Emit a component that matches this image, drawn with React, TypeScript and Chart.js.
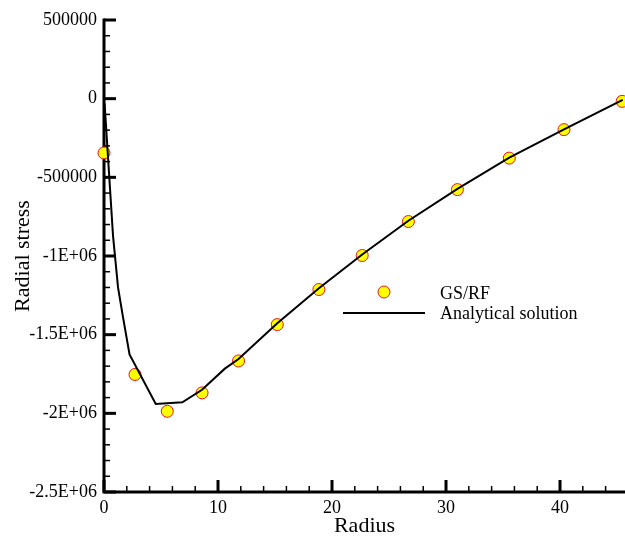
import React, { useEffect, useRef } from "react";
import { Chart, registerables } from "chart.js";

Chart.register(...registerables);

// GS/RF results (circles)
const gsRadius = [0, 2.72, 5.55, 8.6, 11.8, 15.2, 18.85, 22.65, 26.7, 31.0, 35.55, 40.35, 45.45];
const gsStress = [-345000, -1753000, -1987000, -1870000, -1667000, -1436000, -1213000, -997000, -781000, -578000, -378000, -197000, -17000];

// Analytical solution (line)
const anRadius = [0.05, 0.79, 1.23, 1.67, 2.24, 4.54, 6.87, 8.6, 10.6, 11.8, 15.2, 18.85, 22.65, 26.7, 31.0, 35.55, 40.35, 45.5];
const anStress = [-30000, -870000, -1200000, -1390000, -1626000, -1940000, -1930000, -1850000, -1716000, -1655000, -1428000, -1205000, -990000, -776000, -573000, -375000, -195000, -8000];

const xTickValues = [0, 10, 20, 30, 40];
const yTickValues = [500000, 0, -500000, -1000000, -1500000, -2000000, -2500000];
const yTickLabels = ["500000", "0", "-500000", "-1E+06", "-1.5E+06", "-2E+06", "-2.5E+06"];
const xTitle = "Radius";
const yTitle = "Radial stress";
const legendLabels = ["GS/RF", "Analytical solution"];

const FONT = "'Liberation Serif', 'Times New Roman', serif";
const POINT_FILL = "#ffff00";
const POINT_EDGE = "#e8141a";

const axesPlugin = {
  id: "axesTicks",
  beforeDatasetsDraw(chart: any) {
    const { ctx, chartArea } = chart;
    const x = chart.scales.x;
    const y = chart.scales.y;
    ctx.save();
    ctx.strokeStyle = "#000";
    ctx.lineCap = "butt";
    // y ticks every 100000, major every 500000
    const yMinK = Math.round(y.min / 100000);
    const yMaxK = Math.round(y.max / 100000);
    for (let k = yMinK; k <= yMaxK; k++) {
      const py = y.getPixelForValue(k * 100000);
      const major = k % 5 === 0;
      ctx.lineWidth = major ? 3 : 1.5;
      ctx.beginPath();
      ctx.moveTo(chartArea.left, py);
      ctx.lineTo(chartArea.left + (major ? 12 : 6), py);
      ctx.stroke();
    }
    // x ticks every 2, major every 10
    const xMaxK = Math.floor(x.max / 2);
    for (let k = 0; k <= xMaxK; k++) {
      const px = x.getPixelForValue(k * 2);
      const major = k % 5 === 0;
      ctx.lineWidth = major ? 3 : 1.5;
      ctx.beginPath();
      ctx.moveTo(px, chartArea.bottom);
      ctx.lineTo(px, chartArea.bottom - (major ? 12 : 6));
      ctx.stroke();
    }
    // axis lines
    ctx.lineWidth = 3;
    ctx.beginPath();
    ctx.moveTo(chartArea.left, chartArea.top - 1.5);
    ctx.lineTo(chartArea.left, chartArea.bottom + 1.5);
    ctx.moveTo(chartArea.left - 1.5, chartArea.bottom);
    ctx.lineTo(chartArea.right, chartArea.bottom);
    ctx.stroke();
    ctx.restore();
  },
};

const legendPlugin = {
  id: "customLegend",
  afterDraw(chart: any) {
    const { ctx } = chart;
    ctx.save();
    // circle entry
    ctx.beginPath();
    ctx.arc(384, 292, 6, 0, Math.PI * 2);
    ctx.fillStyle = POINT_FILL;
    ctx.fill();
    ctx.lineWidth = 1;
    ctx.strokeStyle = POINT_EDGE;
    ctx.stroke();
    // line entry
    ctx.beginPath();
    ctx.moveTo(343, 313);
    ctx.lineTo(425, 313);
    ctx.lineWidth = 2;
    ctx.strokeStyle = "#000";
    ctx.stroke();
    ctx.fillStyle = "#000";
    ctx.font = `18px ${FONT}`;
    ctx.textAlign = "left";
    ctx.textBaseline = "alphabetic";
    ctx.fillText(legendLabels[0], 440, 299);
    ctx.fillText(legendLabels[1], 440, 319);
    ctx.restore();
  },
};

export default function App() {
  const canvasRef = useRef<HTMLCanvasElement | null>(null);

  useEffect(() => {
    const canvas = canvasRef.current;
    if (!canvas) return;
    const chart = new Chart(canvas, {
      type: "scatter",
      data: {
        datasets: [
          {
            label: legendLabels[1],
            data: anRadius.map((r, i) => ({ x: r, y: anStress[i] })),
            showLine: true,
            borderColor: "#000",
            borderWidth: 2,
            pointRadius: 0,
            fill: false,
            tension: 0,
            clip: false as any,
          },
          {
            label: legendLabels[0],
            data: gsRadius.map((r, i) => ({ x: r, y: gsStress[i] })),
            showLine: false,
            pointRadius: 6,
            pointBackgroundColor: POINT_FILL,
            pointBorderColor: POINT_EDGE,
            pointBorderWidth: 1,
            clip: false as any,
          },
        ],
      },
      options: {
        responsive: false,
        animation: false,
        layout: { autoPadding: false, padding: { top: 20, right: 0, left: 0, bottom: 0 } },
        plugins: {
          legend: { display: false },
          tooltip: { enabled: false },
        },
        scales: {
          x: {
            type: "linear",
            position: "bottom",
            min: 0,
            max: 45.7,
            grid: { display: false, drawTicks: false },
            border: { display: false },
            afterBuildTicks: (s: any) => {
              s.ticks = xTickValues.map((v) => ({ value: v }));
            },
            afterFit: (s: any) => {
              s.height = 49;
              s.paddingLeft = 0;
              s.paddingRight = 0;
            },
            ticks: {
              color: "#000",
              font: { family: FONT, size: 18 },
              padding: 5,
              maxRotation: 0,
              autoSkip: false,
            },
            title: {
              display: true,
              text: xTitle,
              color: "#000",
              font: { family: FONT, size: 22 },
              padding: { top: 0, bottom: 2 },
            },
          },
          y: {
            type: "linear",
            position: "left",
            min: -2500000,
            max: 500000,
            grid: { display: false, drawTicks: false },
            border: { display: false },
            afterBuildTicks: (s: any) => {
              s.ticks = yTickValues.map((v) => ({ value: v }));
            },
            afterFit: (s: any) => {
              s.width = 104;
              s.paddingTop = 0;
              s.paddingBottom = 0;
            },
            ticks: {
              color: "#000",
              font: { family: FONT, size: 18 },
              padding: 7,
              autoSkip: false,
              callback: (v: any) => {
                const i = yTickValues.indexOf(Number(v));
                return i >= 0 ? yTickLabels[i] : "";
              },
            },
            title: {
              display: true,
              text: yTitle,
              color: "#000",
              font: { family: FONT, size: 22 },
              padding: { top: 10, bottom: 0 },
            },
          },
        },
      },
      plugins: [axesPlugin, legendPlugin],
    });
    return () => chart.destroy();
  }, []);

  return (
    <div style={{ position: "fixed", left: 0, top: 0, width: 625, height: 541, background: "#fff" }}>
      <canvas ref={canvasRef} width={625} height={541} style={{ display: "block" }} />
    </div>
  );
}
